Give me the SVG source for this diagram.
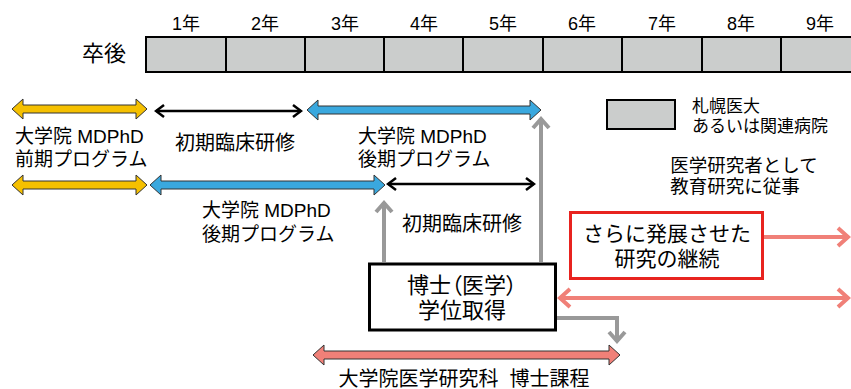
<svg xmlns="http://www.w3.org/2000/svg" width="851" height="389" viewBox="0 0 851 389">
<defs>
<style>
text{font-family:"Liberation Sans","Noto Sans CJK JP",sans-serif;fill:#000}
.yr{font-size:18px;text-anchor:middle}
.cell{fill:#cbcdcc;stroke:#000;stroke-width:2}
.yel{fill:#f5c000;stroke:#333;stroke-width:1}
.blu{fill:#3aa8de;stroke:#333;stroke-width:1}
.pnk{fill:#f08078;stroke:#333;stroke-width:1}
.blk{fill:none;stroke:#000;stroke-width:2.5}
.gry{fill:none;stroke:#999;stroke-width:4}
.pl{fill:none;stroke:#f08078;stroke-width:4}
.t19{font-size:19px}
.t20{font-size:20px}
</style>
<marker id="mb" viewBox="-12 -10 14 20" markerWidth="14" markerHeight="20" refX="0" refY="0" orient="auto-start-reverse" markerUnits="userSpaceOnUse">
<path d="M-8,-6 L0,0 L-8,6" fill="none" stroke="#000" stroke-width="2.5"/>
</marker>
<marker id="mg" viewBox="-14 -12 16 24" markerWidth="16" markerHeight="24" refX="0" refY="0" orient="auto-start-reverse" markerUnits="userSpaceOnUse">
<path d="M-10,-8 L-1,0 L-10,8" fill="none" stroke="#999" stroke-width="4"/>
</marker>
<marker id="mp" viewBox="-14 -12 16 24" markerWidth="16" markerHeight="24" refX="0" refY="0" orient="auto-start-reverse" markerUnits="userSpaceOnUse">
<path d="M-11,-9 L-1,0 L-11,9" fill="none" stroke="#f08078" stroke-width="4"/>
</marker>
</defs>
<rect width="851" height="389" fill="#fff"/>

<g id="timeline">
<text x="104" y="61" style="font-size:22px" text-anchor="middle">卒後</text>
<rect class="cell" x="146" y="37" width="80" height="35"/>
<rect class="cell" x="226" y="37" width="79" height="35"/>
<rect class="cell" x="305" y="37" width="79" height="35"/>
<rect class="cell" x="384" y="37" width="79" height="35"/>
<rect class="cell" x="463" y="37" width="80" height="35"/>
<rect class="cell" x="543" y="37" width="79" height="35"/>
<rect class="cell" x="622" y="37" width="80" height="35"/>
<rect class="cell" x="702" y="37" width="79" height="35"/>
<rect class="cell" x="781" y="37" width="80" height="35"/>
<text class="yr" x="186" y="30">1年</text>
<text class="yr" x="265" y="30">2年</text>
<text class="yr" x="345" y="30">3年</text>
<text class="yr" x="424" y="30">4年</text>
<text class="yr" x="503" y="30">5年</text>
<text class="yr" x="582" y="30">6年</text>
<text class="yr" x="662" y="30">7年</text>
<text class="yr" x="741" y="30">8年</text>
<text class="yr" x="820" y="30">9年</text>
</g>

<g id="legend">
<rect class="cell" x="607" y="100" width="68" height="29"/>
<text x="692" y="112" style="font-size:17px">札幌医大</text>
<text x="692" y="132" style="font-size:17px">あるいは関連病院</text>
</g>

<g id="researcher-text">
<text x="744" y="172" style="font-size:18.5px" text-anchor="middle">医学研究者として</text>
<text x="735" y="193" style="font-size:18.5px" text-anchor="middle">教育研究に従事</text>
</g>

<g id="row1-pre">
<polygon class="yel" points="12,109 23,99 23,105 136,105 136,99 147,109 136,119 136,113 23,113 23,119"/>
<text class="t19" x="15" y="143">大学院 MDPhD</text>
<text class="t19" x="15" y="166">前期プログラム</text>
</g>
<g id="row1-clinical">
<text class="t20" x="235" y="150" text-anchor="middle">初期臨床研修</text>
</g>
<g id="row1-post">
<polygon class="blu" points="307,110 318,100 318,106 530,106 530,100 541,110 530,120 530,114 318,114 318,120"/>
<text class="t19" x="358" y="143">大学院 MDPhD</text>
<text class="t19" x="358" y="166">後期プログラム</text>
</g>

<g id="row2-pre">
<polygon class="yel" points="12,185 23,175 23,181 136,181 136,175 147,185 136,195 136,189 23,189 23,195"/>
</g>
<g id="row2-post">
<polygon class="blu" points="150,185 161,175 161,181 374,181 374,175 385,185 374,195 374,189 161,189 161,195"/>
<text class="t19" x="202" y="217">大学院 MDPhD</text>
<text class="t19" x="202" y="241">後期プログラム</text>
</g>
<g id="row2-clinical">
<text class="t20" x="402" y="231">初期臨床研修</text>
</g>

<g id="degree">
<rect x="369.5" y="264" width="186" height="66" fill="#fff" stroke="#000" stroke-width="3"/>
<text x="462" y="293" style="font-size:22px;font-feature-settings:'palt'" text-anchor="middle">博士（医学）</text>
<text x="462" y="318" style="font-size:22px" text-anchor="middle">学位取得</text>
</g>

<g id="continue">
<rect x="570.5" y="212.5" width="192" height="66" fill="#fff" stroke="#e8231f" stroke-width="3"/>
<text x="667" y="241" style="font-size:21px" text-anchor="middle">さらに発展させた</text>
<text x="667" y="266" style="font-size:21px" text-anchor="middle">研究の継続</text>
</g>

<g id="doctoral">
<polygon class="pnk" points="313,355 324,345 324,351 609,351 609,345 620,355 609,365 609,359 324,359 324,365"/>
<text x="464" y="386" style="font-size:20px;white-space:pre" text-anchor="middle" xml:space="preserve">大学院医学研究科  博士課程</text>
</g>

<g id="connectors">
<line class="blk" x1="156" y1="111" x2="301" y2="111" marker-start="url(#mb)" marker-end="url(#mb)"/>
<line class="blk" x1="388" y1="184" x2="534" y2="184" marker-start="url(#mb)" marker-end="url(#mb)"/>
<line class="gry" x1="384" y1="262" x2="384" y2="202" marker-end="url(#mg)"/>
<line class="gry" x1="541" y1="262" x2="541" y2="118" marker-end="url(#mg)"/>
<path class="gry" d="M557,318 H617 V342" marker-end="url(#mg)"/>
<line class="pl" x1="764" y1="237" x2="849" y2="237" marker-end="url(#mp)"/>
<line class="pl" x1="559" y1="298" x2="849" y2="298" marker-start="url(#mp)" marker-end="url(#mp)"/>
</g>
</svg>
